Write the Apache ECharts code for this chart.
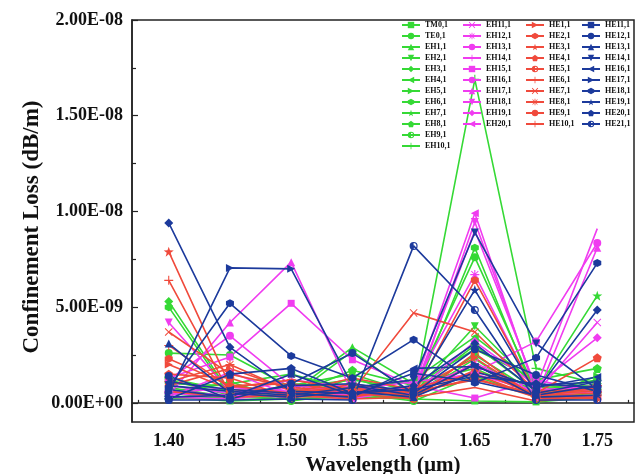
<!DOCTYPE html>
<html><head><meta charset="utf-8">
<script src="https://cdn.jsdelivr.net/npm/echarts@6/dist/echarts.min.js"></script>
<style>html,body{margin:0;padding:0;background:#fff}#c{width:644px;height:474px}</style>
</head><body><div id="c"></div>
<script>
// Wavelengths (µm)
const wavelengths = [1.40, 1.45, 1.50, 1.55, 1.60, 1.65, 1.70, 1.75];
const xTickLabels = [1.40, 1.45, 1.50, 1.55, 1.60, 1.65, 1.70, 1.75];
const xMinorTicks = [1.375, 1.425, 1.475, 1.525, 1.575, 1.625, 1.675, 1.725, 1.775];
// Y values in units of 1e-9 dB/m
const yTickLabels = [0, 5, 10, 15, 20];
const yMinorTicks = [2.5, 7.5, 12.5, 17.5];

// Series names per colour group
const greenNames = ['TM0,1','TE0,1','EH1,1','EH2,1','EH3,1','EH4,1','EH5,1','EH6,1','EH7,1','EH8,1','EH9,1','EH10,1'];
const magentaNames = ['EH11,1','EH12,1','EH13,1','EH14,1','EH15,1','EH16,1','EH17,1','EH18,1','EH19,1','EH20,1'];
const redNames = ['HE1,1','HE2,1','HE3,1','HE4,1','HE5,1','HE6,1','HE7,1','HE8,1','HE9,1','HE10,1'];
const blueNames = ['HE11,1','HE12,1','HE13,1','HE14,1','HE15,1','HE16,1','HE17,1','HE18,1','HE19,1','HE20,1','HE21,1'];
const blueLegend = ['HE11,1','HE12,1','HE13,1','HE14,1','HE16,1','HE17,1','HE18,1','HE19,1','HE20,1','HE21,1'];

// Confinement loss (×1e-9 dB/m), one row per mode, columns = wavelengths
const TM0_1  = [0.3, 0.1, 0.2, 0.3, 0.2, 0.1, 0.05, 0.3];
const TE0_1  = [2.6, 2.5, 0.8, 1.2, 0.7, 7.6, 0.6, 1.2];
const EH1_1  = [1.0, 0.9, 0.5, 2.9, 1.0, 1.8, 0.4, 1.0];
const EH2_1  = [0.8, 0.3, 0.9, 1.5, 0.5, 4.0, 0.8, 0.9];
const EH3_1  = [5.3, 0.5, 0.3, 2.7, 0.4, 2.5, 0.5, 0.7];
const EH4_1  = [0.6, 1.0, 1.5, 0.6, 1.2, 3.45, 1.0, 0.6];
const EH5_1  = [1.2, 0.4, 0.6, 1.0, 0.3, 2.3, 0.2, 1.4];
const EH6_1  = [5.0, 0.4, 0.2, 1.3, 0.3, 8.1, 0.3, 0.5];
const EH7_1  = [0.5, 0.2, 1.0, 0.8, 0.6, 3.0, 0.6, 5.6];
const EH8_1  = [1.3, 0.6, 0.4, 1.7, 0.9, 2.8, 1.2, 1.8];
const EH9_1  = [0.4, 1.1, 0.1, 0.5, 0.1, 1.4, 0.3, 0.4];
const EH10_1 = [0.2, 0.3, 0.2, 0.4, 0.3, 16.9, 1.8, 1.0];

const EH11_1 = [0.9, 0.5, 1.2, 0.8, 0.4, 2.1, 0.5, 4.2];
const EH12_1 = [0.5, 0.8, 0.6, 0.4, 0.9, 6.7, 0.4, 0.6];
const EH13_1 = [0.3, 0.2, 0.5, 0.3, 0.6, 9.0, 0.8, 9.1];
const EH14_1 = [0.6, 0.4, 0.3, 0.7, 1.1, 1.5, 0.6, 0.9];
const EH15_1 = [1.3, 2.4, 5.2, 2.25, 0.9, 0.25, 1.2, 0.5];
const EH16_1 = [1.2, 3.5, 0.9, 0.6, 0.8, 1.6, 3.2, 8.35];
const EH17_1 = [0.4, 4.2, 7.35, 0.5, 0.6, 2.0, 0.3, 8.1];
const EH18_1 = [4.2, 0.6, 0.5, 1.0, 0.3, 9.45, 0.7, 0.8];
const EH19_1 = [0.5, 0.3, 0.8, 0.4, 0.5, 3.2, 0.9, 3.4];
const EH20_1 = [0.3, 1.6, 0.4, 0.2, 0.8, 9.9, 0.5, 0.3];

const HE1_1  = [2.0, 0.7, 0.5, 1.3, 0.7, 2.35, 0.3, 0.8];
const HE2_1  = [2.3, 0.9, 1.0, 0.6, 0.4, 6.4, 0.5, 0.6];
const HE3_1  = [7.9, 0.9, 0.5, 0.8, 0.3, 1.7, 0.4, 0.5];
const HE4_1  = [1.5, 1.3, 0.3, 0.4, 0.6, 1.2, 0.5, 2.35];
const HE5_1  = [0.9, 1.8, 0.7, 0.5, 0.2, 2.6, 0.2, 0.3];
const HE6_1  = [6.4, 0.5, 0.3, 1.0, 0.5, 1.3, 0.3, 0.4];
const HE7_1  = [3.7, 1.5, 0.8, 0.6, 4.7, 3.7, 0.6, 0.7];
const HE8_1  = [1.1, 2.0, 0.6, 0.3, 0.8, 1.5, 0.3, 0.2];
const HE9_1  = [0.6, 0.3, 0.4, 0.2, 0.3, 0.8, 0.1, 0.3];
const HE10_1 = [3.0, 0.8, 1.2, 0.7, 0.4, 2.0, 0.4, 0.9];

const HE11_1 = [0.7, 0.3, 1.5, 0.4, 1.55, 1.1, 0.4, 0.9];
const HE12_1 = [1.4, 0.2, 1.0, 2.6, 0.5, 2.8, 1.45, 0.6];
const HE13_1 = [3.1, 0.5, 0.3, 0.6, 0.3, 1.6, 0.9, 1.1];
const HE14_1 = [0.9, 0.6, 0.4, 0.8, 1.2, 8.9, 3.1, 0.7];
const HE15_1 = [9.4, 2.9, 0.6, 0.5, 0.9, 3.1, 0.6, 4.85];
const HE16_1 = [1.1, 0.7, 0.5, 0.3, 1.8, 1.9, 0.8, 1.35];
const HE17_1 = [0.5, 7.05, 7.0, 0.9, 0.4, 2.0, 0.3, 0.4];
const HE18_1 = [0.8, 5.2, 2.45, 1.3, 3.3, 1.05, 2.35, 7.3];
const HE19_1 = [0.3, 0.4, 0.9, 1.0, 0.6, 5.9, 0.5, 1.1];
const HE20_1 = [0.2, 1.5, 1.8, 0.5, 0.7, 1.4, 1.0, 0.8];
const HE21_1 = [0.15, 0.15, 0.2, 0.15, 8.2, 4.85, 0.15, 0.15];

const greenData = [TM0_1, TE0_1, EH1_1, EH2_1, EH3_1, EH4_1, EH5_1, EH6_1, EH7_1, EH8_1, EH9_1, EH10_1];
const magentaData = [EH11_1, EH12_1, EH13_1, EH14_1, EH15_1, EH16_1, EH17_1, EH18_1, EH19_1, EH20_1];
const redData = [HE1_1, HE2_1, HE3_1, HE4_1, HE5_1, HE6_1, HE7_1, HE8_1, HE9_1, HE10_1];
const blueData = [HE11_1, HE12_1, HE13_1, HE14_1, HE15_1, HE16_1, HE17_1, HE18_1, HE19_1, HE20_1, HE21_1];

const COLORS = { green: '#35d935', magenta: '#f03cf0', red: '#f04a3c', blue: '#1c3a9c' };

const P = {
  hexagon: 'path://M50,0L93.3,25L93.3,75L50,100L6.7,75L6.7,25Z',
  star: 'path://M50,0L61.76,33.82L97.55,34.55L69.02,56.18L79.39,90.45L50,70L20.61,90.45L30.98,56.18L2.45,34.55L38.24,33.82Z',
  pentagon: 'path://M50,0L97.55,34.55L79.39,90.45L20.61,90.45L2.45,34.55Z',
  half: 'path://M50,0A50,50 0 1,1 50,100A50,50 0 1,1 50,0Z M50,15L50,85A35,35 0 0,0 50,15Z',
  plus: 'path://M44,0H56V44H100V56H56V100H44V56H0V44H44Z',
  cross: 'path://M0,9L9,0L50,41L91,0L100,9L59,50L100,91L91,100L50,59L9,100L0,91L41,50Z',
  aster: 'path://M44,0H56V44H100V56H56V100H44V56H0V44H44Z M8,15L15,8L50,43L85,8L92,15L57,50L92,85L85,92L50,57L15,92L8,85L43,50Z'
};
// Origin-style symbol cycle
const cycle = [
  ['rect',0,7],['circle',0,8],['triangle',0,8],['triangle',180,8],['diamond',0,9],
  ['triangle',90,8],['triangle',-90,8],[P.hexagon,0,8],[P.star,0,10],[P.pentagon,0,9],
  [P.half,0,8],[P.plus,0,9],[P.cross,0,8],[P.aster,0,9],['none',0,6],[P.plus,0,9]
];

const series = [];
let idx = 0;
function addGroup(names, data, color) {
  names.forEach((n, i) => {
    const s = cycle[idx % cycle.length];
    idx++;
    series.push({
      name: n, type: 'line',
      data: wavelengths.map((w, j) => [w, data[i][j]]),
      symbol: s[0], symbolRotate: s[1], symbolSize: s[2],
      showSymbol: s[0] !== 'none',
      lineStyle: { color: color, width: 1.6 },
      itemStyle: { color: color },
      emphasis: { disabled: true },
      animation: false
    });
  });
}
addGroup(greenNames, greenData, COLORS.green);
addGroup(magentaNames, magentaData, COLORS.magenta);
addGroup(redNames, redData, COLORS.red);
addGroup(blueNames, blueData, COLORS.blue);

function fmtE(v) {
  if (Math.abs(v) < 1e-20) return '0.00E+00';
  const s = v.toExponential(2);
  const parts = s.split('e');
  const sign = parts[1][0];
  const d = parts[1].slice(1).padStart(2, '0');
  return parts[0] + 'E' + sign + d;
}

const FONT = 'Liberation Serif';
const legendBase = {
  orient: 'vertical', top: 21, itemWidth: 18, itemHeight: 8, itemGap: 3,
  selectedMode: false, padding: 0,
  textStyle: { fontSize: 8, fontWeight: 'bold', fontFamily: FONT, color: '#111', lineHeight: 8 }
};

const option = {
  backgroundColor: '#fff',
  animation: false,
  grid: { left: 132, right: 10, top: 20, bottom: 52, show: true, borderColor: '#222', borderWidth: 1.5,
          backgroundColor: 'transparent', outerBoundsMode: 'none', containLabel: false },
  legend: [
    Object.assign({}, legendBase, { left: 401, data: greenNames }),
    Object.assign({}, legendBase, { left: 462, data: magentaNames }),
    Object.assign({}, legendBase, { left: 525, data: redNames }),
    Object.assign({}, legendBase, { left: 581, data: blueLegend })
  ],
  graphic: [{
    type: 'text', z: 10,
    x: 32, y: 227, rotation: Math.PI / 2,
    style: { text: 'Confinement Loss (dB/m)', fontSize: 23, fontWeight: 'bold', fontFamily: FONT, fill: '#111',
             align: 'center', verticalAlign: 'middle' }
  }],
  xAxis: [{
    type: 'value', min: 1.37, max: 1.78,
    axisLine: { show: true, lineStyle: { color: '#222', width: 1.5 } },
    axisTick: { show: true, inside: true, length: 6, customValues: xTickLabels, lineStyle: { color: '#222', width: 1.2 } },
    axisLabel: { customValues: xTickLabels, formatter: v => v.toFixed(2), fontSize: 18, fontWeight: 'bold', fontFamily: FONT, color: '#111', margin: 10 },
    splitLine: { show: false },
    name: 'Wavelength (\u00b5m)', nameLocation: 'middle', nameGap: 29,
    nameTextStyle: { fontSize: 21, fontWeight: 'bold', fontFamily: FONT, color: '#111' }
  }, {
    type: 'value', min: 1.37, max: 1.78, position: 'bottom',
    axisLine: { show: false },
    axisTick: { show: true, inside: true, length: 3, customValues: xMinorTicks, lineStyle: { color: '#222', width: 1.2 } },
    axisLabel: { show: false }, splitLine: { show: false }
  }],
  yAxis: [{
    type: 'value', min: -1, max: 20,
    axisLine: { show: true, lineStyle: { color: '#222', width: 1.5 } },
    axisTick: { show: true, inside: true, length: 6, customValues: yTickLabels, lineStyle: { color: '#222', width: 1.2 } },
    axisLabel: { customValues: yTickLabels, formatter: v => fmtE(v * 1e-9), fontSize: 18, fontWeight: 'bold', fontFamily: FONT, color: '#111', margin: 9 },
    splitLine: { show: false }
  }, {
    type: 'value', min: -1, max: 20, position: 'left',
    axisLine: { show: false },
    axisTick: { show: true, inside: true, length: 4, customValues: yMinorTicks, lineStyle: { color: '#222', width: 1.2 } },
    axisLabel: { show: false }, splitLine: { show: false }
  }],
  series: series
};

const chart = echarts.init(document.getElementById('c'), null, { renderer: 'canvas' });
chart.setOption(option);
</script>
</body></html>
